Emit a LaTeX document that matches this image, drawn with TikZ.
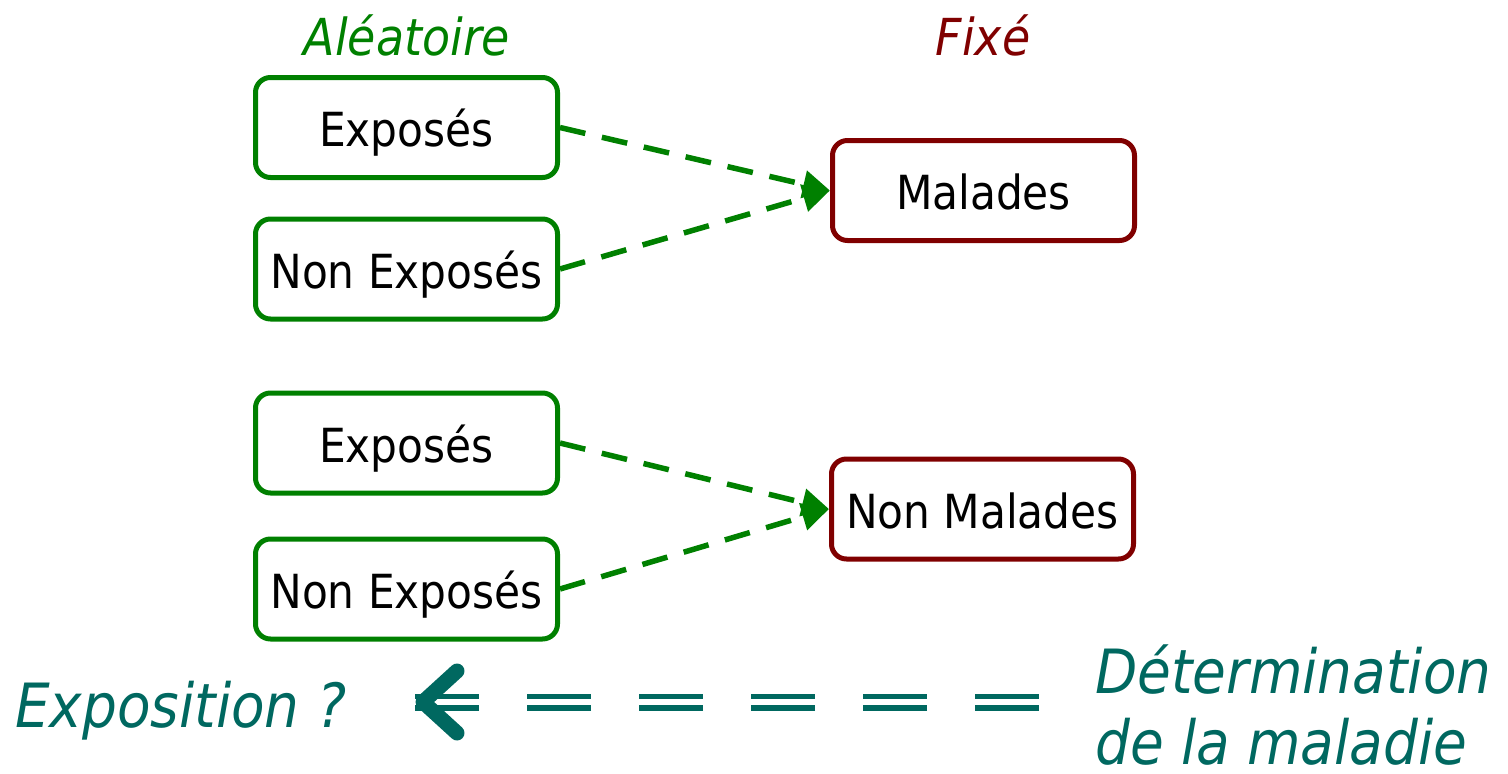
\documentclass[tikz,border=0pt]{standalone}
\usepackage{fontspec}
\setmainfont{DejaVu Sans Condensed}[ItalicFont={DejaVu Sans Condensed Oblique}]
\usetikzlibrary{arrows.meta,calc}
\definecolor{grn}{RGB}{0,128,0}
\definecolor{dred}{RGB}{128,0,0}
\definecolor{tealx}{RGB}{0,104,96}
\begin{document}
\begin{tikzpicture}[x=1pt,y=-1pt,
  grpbox/.style={draw=grn, line width=5pt, rounded corners=15pt,
    minimum width=302pt, minimum height=100pt, inner sep=0pt,
    text height=38pt, text depth=0pt,
    font=\fontsize{47}{56}\selectfont, fill=white},
  fixbox/.style={grpbox, draw=dred},
  link/.style={draw=grn, line width=5.5pt, dash pattern=on 26pt off 17pt,
    -{Triangle[length=27pt,width=27pt]}},
  head/.style={font=\fontsize{51}{60}\selectfont\itshape, anchor=base},
  note/.style={font=\fontsize{61}{70}\selectfont\itshape, text=tealx,
    inner sep=0pt, anchor=base west},
  shaft/.style={draw=tealx, line width=5.5pt, double=white, double distance=6pt,
    dash pattern=on 64pt off 48pt},
  chevron/.style={draw=tealx, line width=15pt, line cap=round, line join=round}
]
\useasboundingbox (0,0) rectangle (1508,774);

% column headings
\node[head, text=grn] (ale) at (407,55) {Aléatoire};
\node[head, text=dred] (fix) at (983,55) {Fixé};

% group boxes
\node[grpbox] (e1) at (406.5,127.5) {Exposés};
\node[grpbox] (n1) at (406.5,269) {Non Exposés};
\node[fixbox] (m)  at (983.5,190.5) {Malades};
\node[grpbox] (e2) at (406.5,443) {Exposés};
\node[grpbox] (n2) at (406.5,589) {Non Exposés};
\node[fixbox] (nm) at (982.5,509) {Non Malades};

% links
\draw[link] (e1.east) -- (m.west);
\draw[link] (n1.east) -- (m.west);
\draw[link] (e2.east) -- (nm.west);
\draw[link] (n2.east) -- (nm.west);

% bottom line: direction of inquiry
\node[note] (expo) at (15,727) {Exposition ?};
\node[note] (det1) at (1095,693) {Détermination};
\node[note] (det2) at (1095,764) {de la maladie};
\coordinate (tail) at (1039,702);
\coordinate (tip) at (415,702);
\draw[shaft] (tail) -- (tip);
\draw[chevron] ($(tip)+(42,-31)$) -- ($(tip)+(8,0)$) -- ($(tip)+(42,31)$);
\end{tikzpicture}
\end{document}
